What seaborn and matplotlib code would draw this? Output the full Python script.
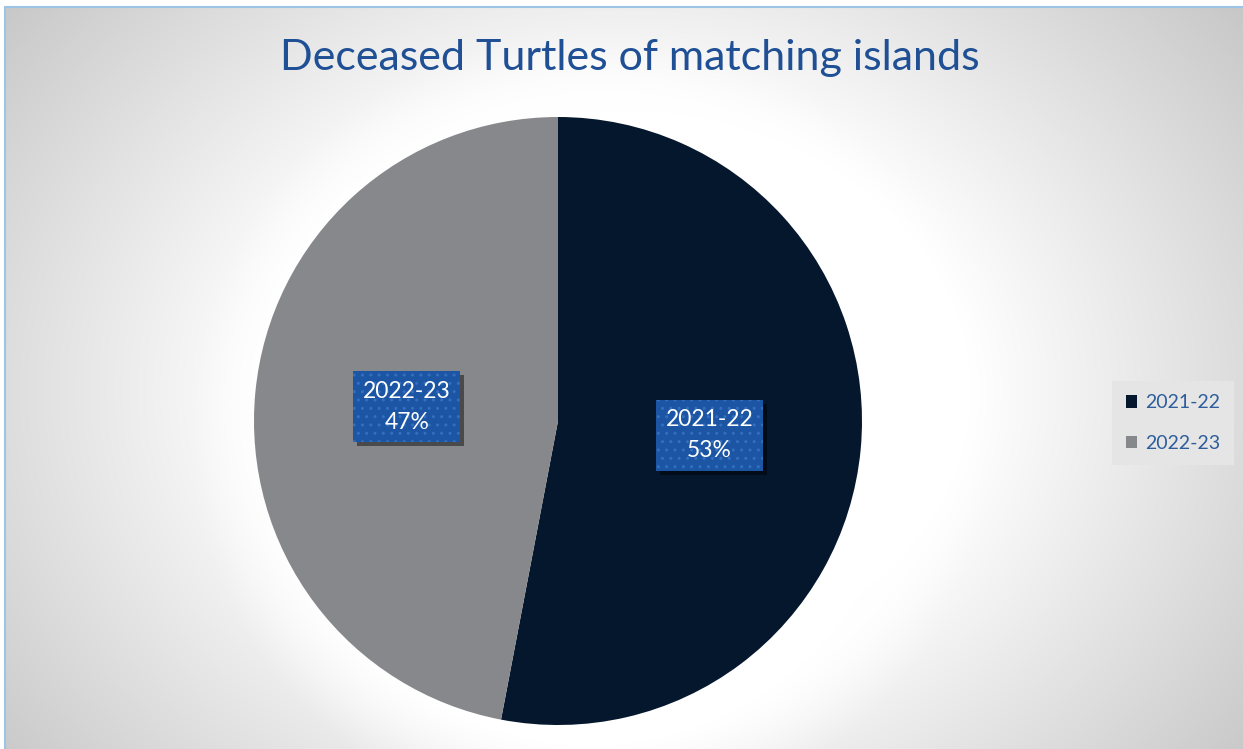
import numpy as np
import matplotlib
matplotlib.use("Agg")
import matplotlib.pyplot as plt
from matplotlib.patches import Patch, Rectangle
from matplotlib.lines import Line2D
from matplotlib.transforms import IdentityTransform
import seaborn as sns

# Data
categories = ["2021-22", "2022-23"]
shares = [53, 47]
slice_colors = ["#05172c", "#87888c"]

title_text = "Deceased Turtles of matching islands"

sns.set_theme(style="white")
plt.rcParams["font.family"] = ["Lato", "DejaVu Sans"]

W, H = 1243, 749
fig = plt.figure(figsize=(W / 100, H / 100), dpi=100)

# Chart-area background: soft radial gradient plus a white glow behind the pie
bg = fig.add_axes([0, 0, 1, 1], zorder=0)
yy, xx = np.mgrid[0:H, 0:W].astype(float)
de = np.hypot((xx - 620) / 1.25, yy - 390)
v = 255 - 0.16 * np.clip(de - 280, 0, None)
dp = np.hypot(xx - 590, yy - 430)
glow = np.clip((400 - dp) / 85, 0, 1) ** 1.2
v = v + (255 - v) * glow
v = np.clip(v, 190, 255) / 255.0
img = np.dstack([v, v, v])
img[:7, :, :] = 1.0
img[:, :5, :] = 1.0
bg.imshow(img, extent=(0, W, H, 0), aspect="auto", interpolation="bilinear")
bg.set_xlim(0, W)
bg.set_ylim(H, 0)
bg.add_line(Line2D([5, W], [7, 7], color="#9dc3e6", lw=1.5))
bg.add_line(Line2D([5, 5], [7, H], color="#9dc3e6", lw=1.5))
bg.axis("off")

# Pie
ax = fig.add_axes([(558 - 304) / W, (H - 421 - 304) / H, 608 / W, 608 / H], zorder=1)
ax.set_facecolor("none")
wedges, _, autotexts = ax.pie(
    shares,
    colors=slice_colors,
    startangle=90,
    counterclock=False,
    autopct="%.0f%%",
    pctdistance=0.5,
    wedgeprops=dict(linewidth=0),
)
ax.set_xlim(-1, 1)
ax.set_ylim(-1, 1)
ax.set_aspect("equal")
ax.axis("off")

for cat, t in zip(categories, autotexts):
    t.set_text(f"{cat}\n{t.get_text()}")
    t.set_color("white")
    t.set_fontsize(16.5)
    t.set_linespacing(1.6)
    t.set_ha("center")
    t.set_va("center")
    t.set_zorder(5)
    t.set_bbox(dict(boxstyle="square,pad=0.42", facecolor="#1c55a3",
                    edgecolor="#3270bf", linewidth=0, hatch=".."))

# Title
fig.text(630 / W, 1 - 58 / H, title_text, ha="center", va="center",
         fontsize=31, color="#1f4f94")

# Legend
handles = [Patch(facecolor=c, edgecolor="none") for c in slice_colors]
leg = fig.legend(
    handles, categories,
    loc="center left", bbox_to_anchor=(1112 / W, 1 - 423 / H),
    frameon=True, fontsize=14, handlelength=0.6, handleheight=0.6,
    handletextpad=0.4, labelspacing=1.2, borderpad=0.7, borderaxespad=0,
    fancybox=False,
)
leg.get_frame().set_facecolor("#e5e5e5")
leg.get_frame().set_edgecolor("none")
leg.get_frame().set_alpha(1)
for txt in leg.get_texts():
    txt.set_color("#2e5d9c")

# Drop shadows under the label boxes, sized from the rendered boxes
fig.canvas.draw()
renderer = fig.canvas.get_renderer()
for t in autotexts:
    bb = t.get_bbox_patch().get_window_extent(renderer)
    ax.add_patch(Rectangle((bb.x0 + 4, bb.y0 - 4), bb.width, bb.height,
                           transform=IdentityTransform(), facecolor="black",
                           alpha=0.45, linewidth=0, zorder=4))

fig.savefig("out.png", dpi=100)
